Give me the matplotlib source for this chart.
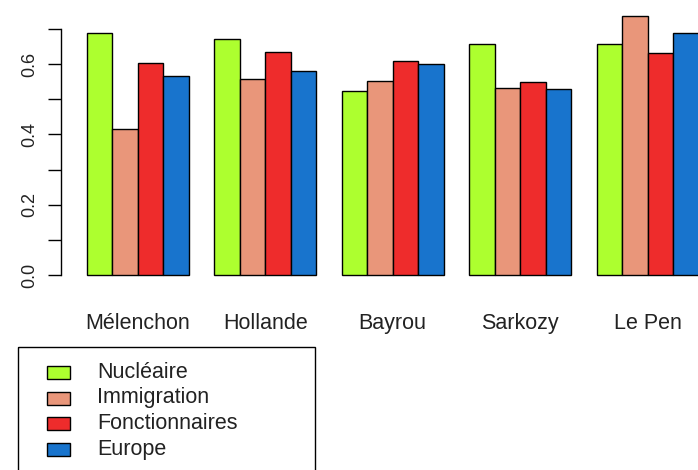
import numpy as np
import matplotlib
matplotlib.use('Agg')
import matplotlib.pyplot as plt
from matplotlib.patches import Rectangle

plt.rcParams['font.family'] = ['Liberation Sans', 'DejaVu Sans']

candidates = ['Mélenchon', 'Hollande', 'Bayrou', 'Sarkozy', 'Le Pen']
themes = ['Nucléaire', 'Immigration', 'Fonctionnaires', 'Europe']
nucleaire = [0.688, 0.672, 0.522, 0.657, 0.657]
immigration = [0.415, 0.556, 0.553, 0.532, 0.736]
fonctionnaires = [0.602, 0.633, 0.609, 0.550, 0.632]
europe = [0.565, 0.581, 0.601, 0.529, 0.688]
colors = ['#ADFF2F', '#E9967A', '#EE2C2C', '#1874CD']

series = [nucleaire, immigration, fonctionnaires, europe]
txt = '#222222'

W, H = 698, 470
fig = plt.figure(figsize=(W / 100, H / 100), dpi=100)
ax = fig.add_axes([61.2 / W, (H - 275.3) / H, 637.5 / W, 267.7 / H])

# R barplot style: beside=TRUE, space=c(0,1)
group_start = np.arange(len(candidates)) * 5 + 1
for i, vals in enumerate(series):
    ax.bar(group_start + i, vals, width=1, align='edge', color=colors[i],
           edgecolor='black', linewidth=1, clip_on=False)

ax.set_xlim(0, 25)
ax.set_ylim(0, 0.76)
for s in ['top', 'right', 'bottom']:
    ax.spines[s].set_visible(False)
ax.spines['left'].set_bounds(0, 0.7)
ax.spines['left'].set_linewidth(1)

ax.set_yticks(np.arange(0, 0.71, 0.1))
ax.set_yticklabels(['0.0', '', '0.2', '', '0.4', '', '0.6', ''],
                   rotation=90, va='center', fontsize=13, color=txt)
ax.tick_params(axis='y', length=9.6, width=1, pad=7)

ax.set_xticks(group_start + 2)
ax.set_xticklabels(candidates, fontsize=15.5, color=txt)
ax.tick_params(axis='x', length=0, pad=27)

# legend drawn in pixel coordinates, box runs off the bottom
lg = fig.add_axes([0, 0, 1, 1], facecolor='none')
lg.set_xlim(0, W)
lg.set_ylim(H, 0)
lg.axis('off')
lg.add_patch(Rectangle((18.3, 347.3), 296.7, 140, fill=False,
                       edgecolor='black', linewidth=1))
rows = [372.7, 398, 423.7, 449.3]
for i, name in enumerate(themes):
    lg.add_patch(Rectangle((46.7, rows[i] - 6.5), 23.3, 13, facecolor=colors[i],
                           edgecolor='black', linewidth=1))
    lg.text(97.3, rows[i], name, fontsize=15.5, va='center', ha='left', color=txt)

fig.savefig('out.png', dpi=100)
